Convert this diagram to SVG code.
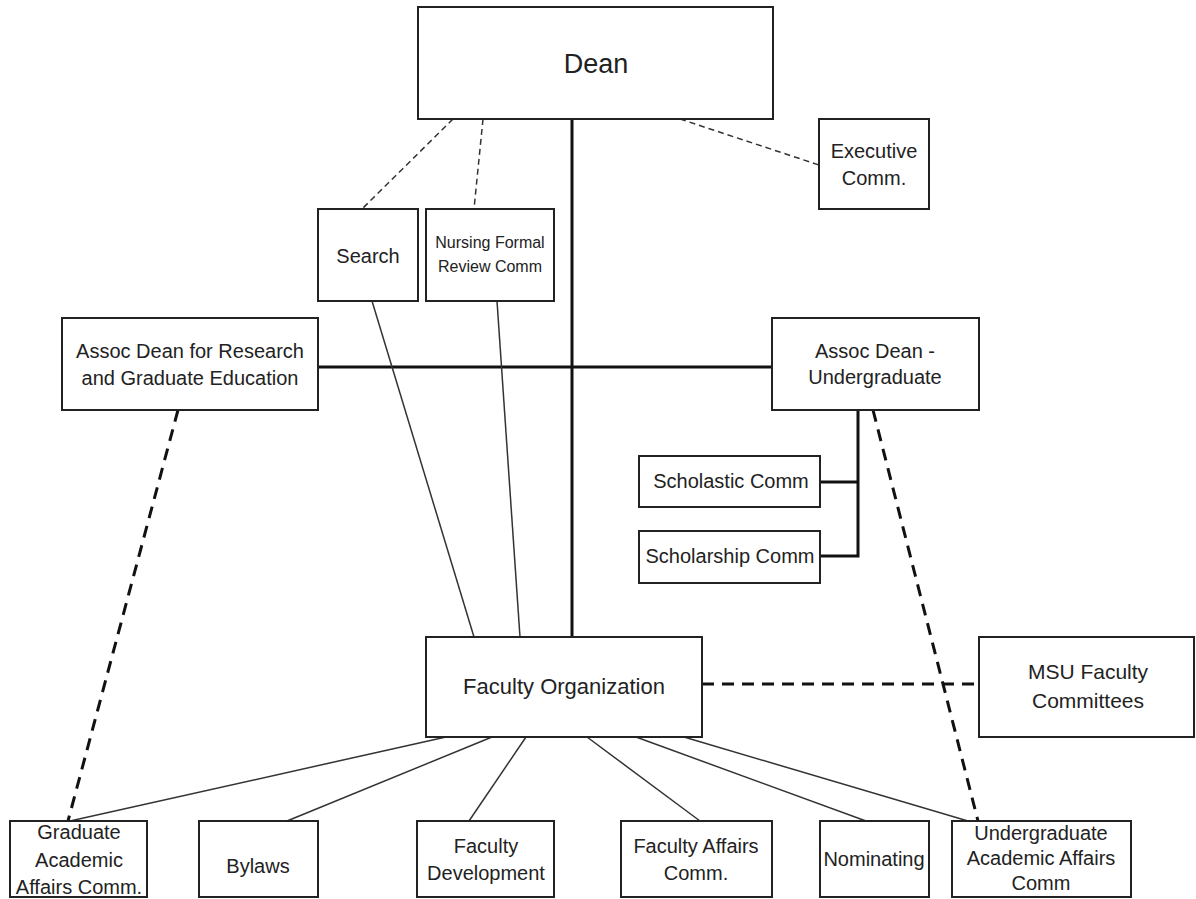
<svg xmlns="http://www.w3.org/2000/svg" width="1196" height="899" viewBox="0 0 1196 899">
<style>
.box{fill:#fff;stroke:#222;stroke-width:2}
.t{font-family:"Liberation Sans",Arial,sans-serif;font-size:20px;fill:#222;text-anchor:middle}
.thin{stroke:#333;stroke-width:1.5;fill:none}
.thick{stroke:#111;stroke-width:3;fill:none}
.dthin{stroke:#333;stroke-width:1.5;stroke-dasharray:6 4;fill:none}
.dthick{stroke:#111;stroke-width:3;stroke-dasharray:12 8;fill:none}
</style>
<rect width="1196" height="899" fill="#fff"/>
<g id="connectors">
<line class="thick" x1="572" y1="119" x2="572" y2="637"/>
<line class="thick" x1="318" y1="367" x2="772" y2="367"/>
<line class="dthin" x1="453" y1="119" x2="362" y2="209"/>
<line class="dthin" x1="483" y1="119" x2="474" y2="209"/>
<line class="dthin" x1="680" y1="119" x2="819" y2="165"/>
<line class="thin" x1="372" y1="301" x2="474" y2="637"/>
<line class="thin" x1="497" y1="301" x2="520" y2="637"/>
<polyline class="thick" points="858,410 858,556 820,556"/>
<line class="thick" x1="820" y1="482" x2="858" y2="482"/>
<line class="dthick" x1="178" y1="410" x2="68" y2="821"/>
<line class="dthick" x1="873" y1="410" x2="978" y2="821"/>
<line class="dthick" x1="702" y1="684" x2="979" y2="684"/>
<line class="thin" x1="446" y1="737" x2="70" y2="821"/>
<line class="thin" x1="492" y1="737" x2="287" y2="821"/>
<line class="thin" x1="526" y1="737" x2="469" y2="821"/>
<line class="thin" x1="587" y1="737" x2="700" y2="821"/>
<line class="thin" x1="636" y1="737" x2="866" y2="821"/>
<line class="thin" x1="684" y1="737" x2="968" y2="821"/>
</g>
<g id="dean"><rect class="box" x="418" y="7" width="355" height="112"/><text class="t" x="596" y="73" style="font-size:27px">Dean</text></g>
<g id="executive"><rect class="box" x="819" y="119" width="110" height="90"/><text class="t" x="874" y="158">Executive</text><text class="t" x="874" y="185">Comm.</text></g>
<g id="search"><rect class="box" x="318" y="209" width="100" height="92"/><text class="t" x="368" y="263">Search</text></g>
<g id="nursing"><rect class="box" x="426" y="209" width="128" height="92"/><text class="t" x="490" y="248" style="font-size:16px">Nursing Formal</text><text class="t" x="490" y="272" style="font-size:16px">Review Comm</text></g>
<g id="assoc-research"><rect class="box" x="62" y="318" width="256" height="92"/><text class="t" x="190" y="358">Assoc Dean for Research</text><text class="t" x="190" y="385">and Graduate Education</text></g>
<g id="assoc-undergrad"><rect class="box" x="772" y="318" width="207" height="92"/><text class="t" x="875" y="358">Assoc Dean -</text><text class="t" x="875" y="384">Undergraduate</text></g>
<g id="scholastic"><rect class="box" x="639" y="456" width="181" height="51"/><text class="t" x="731" y="488">Scholastic Comm</text></g>
<g id="scholarship"><rect class="box" x="639" y="531" width="181" height="52"/><text class="t" x="730" y="563">Scholarship Comm</text></g>
<g id="faculty-org"><rect class="box" x="426" y="637" width="276" height="100"/><text class="t" x="564" y="694" style="font-size:22px">Faculty Organization</text></g>
<g id="msu"><rect class="box" x="979" y="637" width="215" height="100"/><text class="t" x="1088" y="679" style="font-size:21px">MSU Faculty</text><text class="t" x="1088" y="708" style="font-size:21px">Committees</text></g>
<g id="graduate"><rect class="box" x="10" y="821" width="137" height="76"/><text class="t" x="79" y="839">Graduate</text><text class="t" x="79" y="867">Academic</text><text class="t" x="79" y="894">Affairs Comm.</text></g>
<g id="bylaws"><rect class="box" x="199" y="821" width="119" height="76"/><text class="t" x="258" y="873">Bylaws</text></g>
<g id="faculty-dev"><rect class="box" x="417" y="821" width="137" height="76"/><text class="t" x="486" y="853">Faculty</text><text class="t" x="486" y="880">Development</text></g>
<g id="faculty-affairs"><rect class="box" x="621" y="821" width="151" height="76"/><text class="t" x="696" y="853">Faculty Affairs</text><text class="t" x="696" y="880">Comm.</text></g>
<g id="nominating"><rect class="box" x="820" y="821" width="109" height="76"/><text class="t" x="874" y="866">Nominating</text></g>
<g id="undergrad-academic"><rect class="box" x="952" y="821" width="179" height="76"/><text class="t" x="1041" y="840">Undergraduate</text><text class="t" x="1041" y="865">Academic Affairs</text><text class="t" x="1041" y="890">Comm</text></g>
</svg>
